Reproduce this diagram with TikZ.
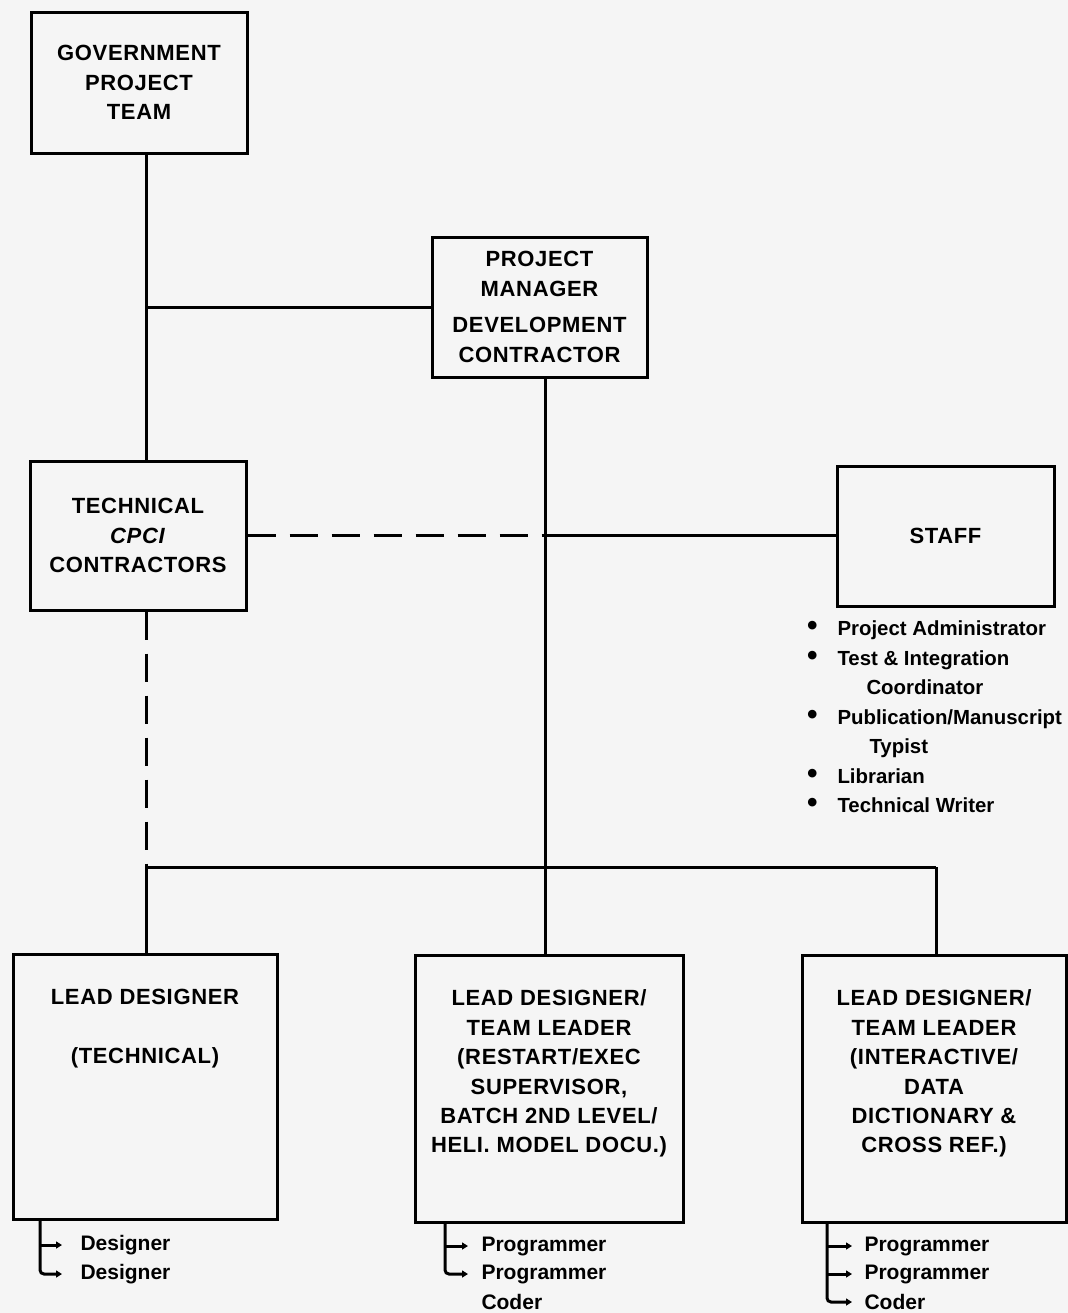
\documentclass[tikz,border=0pt]{standalone}
\usepackage{fontspec}
\setmainfont{Liberation Sans}
\newfontfamily\boxfont[LetterSpace=3]{Liberation Sans}
\usepackage{tikz}
\usetikzlibrary{arrows.meta, positioning}

\begin{document}
\begin{tikzpicture}[x=0.5pt, y=-0.5pt, line width=1.5pt,
    box/.style={draw, align=center, inner sep=0pt, font={\fontsize{11}{14.7}\boxfont\bfseries}},
    boxtext/.style={align=center, inner sep=0pt, anchor=north, font={\fontsize{11}{14.7}\boxfont\bfseries}},
    item/.style={anchor=west, inner sep=0pt, font={\fontsize{10.5}{14.75}\selectfont\bfseries}},
    dashline/.style={dash pattern=on 14pt off 7pt},
    tick/.style={-{Triangle[length=3pt, width=3.5pt]}}]
\useasboundingbox (0,0) rectangle (1068,1313);
\fill[black!4] (0,0) rectangle (1068,1313);

% upper boxes
\node (gov) [box, minimum width=108pt, minimum height=70.5pt] at (139,82.5) {GOVERNMENT\\PROJECT\\TEAM};
\node (pm) [box, minimum width=107.5pt, minimum height=70pt] at (539.5,307) {PROJECT\\MANAGER\\[3.5pt]DEVELOPMENT\\CONTRACTOR};
\node (tech) [box, minimum width=108pt, minimum height=74.5pt] at (138,535.5) {TECHNICAL\\\textit{CPCI}\\CONTRACTORS};
\node (staff) [box, minimum width=108.5pt, minimum height=70pt] at (945.5,536) {STAFF};

\node (staffitems) [anchor=north west, inner sep=0pt, font={\fontsize{10.2}{14.75}\selectfont\bfseries}]
    at ([xshift=-15pt, yshift=-3pt]staff.south west) {%
  \begin{tabular}{@{}l@{\hspace{10pt}}l@{}}
    {\fontsize{15}{14.75}\selectfont\textbullet} & Project Administrator\\
    {\fontsize{15}{14.75}\selectfont\textbullet} & Test \& Integration\\
     & \hspace{14.5pt}Coordinator\\
    {\fontsize{15}{14.75}\selectfont\textbullet} & Publication/Manuscript\\
     & \hspace{16pt}Typist\\
    {\fontsize{15}{14.75}\selectfont\textbullet} & Librarian\\
    {\fontsize{15}{14.75}\selectfont\textbullet} & Technical Writer
  \end{tabular}};

% lead designers
\node (ld1) [box, minimum width=132pt, minimum height=132.5pt] at (145,1086.5) {};
\node (ld2) [box, minimum width=134pt, minimum height=133.5pt] at (549,1088.5) {};
\node (ld3) [box, minimum width=132pt, minimum height=133.5pt] at (934,1088.5) {};

\node (ld1txt) [boxtext, below=17.5pt of ld1.north] {LEAD DESIGNER\\[14.7pt](TECHNICAL)};
\node (ld2txt) [boxtext, below=17.5pt of ld2.north] {LEAD DESIGNER/\\TEAM LEADER\\(RESTART/EXEC\\SUPERVISOR,\\BATCH 2ND LEVEL/\\HELI. MODEL DOCU.)};
\node (ld3txt) [boxtext, below=17.5pt of ld3.north] {LEAD DESIGNER/\\TEAM LEADER\\(INTERACTIVE/\\DATA\\DICTIONARY \&\\CROSS REF.)};

\node (d1) [item] at (79,1245) {Designer};
\node (d2) [item] at (79,1274) {Designer};
\node (p1) [item] at (480,1246) {Programmer};
\node (p2) [item] at (480,1274) {Programmer};
\node (c1) [item] at (480,1302) {Coder};
\node (p3) [item] at (863,1246) {Programmer};
\node (p4) [item] at (863,1274) {Programmer};
\node (c2) [item] at (863,1302) {Coder};

% trunks
\coordinate (gx) at (146,0);
\coordinate (px) at (545,0);
\coordinate (rx) at (936,0);
\coordinate (bus) at (0,867);
\coordinate (brk1) at (40,0);
\coordinate (brk2) at (445,0);
\coordinate (brk3) at (827,0);

\draw (gov.south -| gx) -- (tech.north -| gx);
\draw (gx |- pm.west) -- (pm.west);
\draw (pm.south -| px) -- (ld2.north -| px);
\draw[dashline] (tech.east) -- (px |- tech.east);
\draw (px |- tech.east) -- (staff.west |- tech.east);
\draw[dashline] (tech.south -| gx) -- (gx |- bus);
\draw (gx |- bus) -- (rx |- bus);
\draw (gx |- bus) -- (ld1.north -| gx);
\draw (rx |- bus) -- (ld3.north -| rx);

% brackets
\draw[tick, rounded corners=2pt, shorten >=8.5pt] (ld1.south -| brk1) |- (d2.west);
\draw[tick, shorten >=8.5pt] (brk1 |- d1.west) -- (d1.west);
\draw[tick, rounded corners=2pt, shorten >=6pt] (ld2.south -| brk2) |- (p2.west);
\draw[tick, shorten >=6pt] (brk2 |- p1.west) -- (p1.west);
\draw[tick, rounded corners=2pt, shorten >=5.5pt] (ld3.south -| brk3) |- (c2.west);
\draw[tick, shorten >=5.5pt] (brk3 |- p3.west) -- (p3.west);
\draw[tick, shorten >=5.5pt] (brk3 |- p4.west) -- (p4.west);
\end{tikzpicture}
\end{document}
